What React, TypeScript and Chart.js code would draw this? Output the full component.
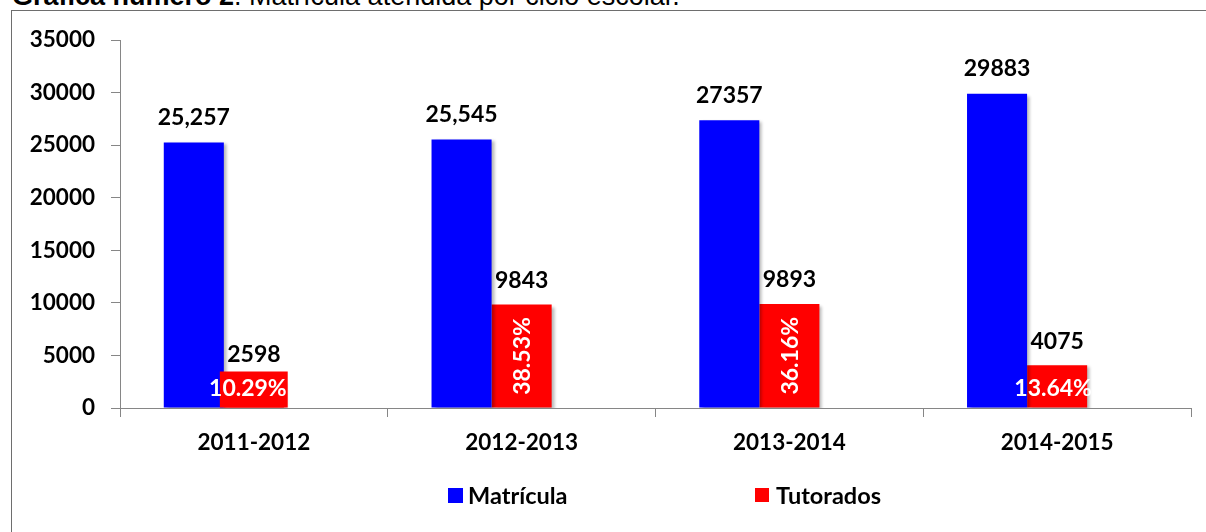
import React, { useEffect, useRef } from "react";
import { Chart, registerables } from "chart.js";

Chart.register(...registerables);

const categories = ["2011-2012", "2012-2013", "2013-2014", "2014-2015"];
const matricula = [25257, 25545, 27357, 29883];
const tutorados = [2598, 9843, 9893, 4075];
const matriculaLabels = ["25,257", "25,545", "27357", "29883"];
const tutoradosLabels = ["2598", "9843", "9893", "4075"];
const porcentajes = ["10.29%", "38.53%", "36.16%", "13.64%"];
const yTicks = [0, 5000, 10000, 15000, 20000, 25000, 30000, 35000];

const FONT = "Lato, 'Open Sans', sans-serif";

export default function App() {
  const canvasRef = useRef<HTMLCanvasElement | null>(null);

  useEffect(() => {
    document.body.style.margin = "0";
    const canvas = canvasRef.current;
    if (!canvas) return;

    const shadowPlugin = {
      id: "barShadow",
      beforeDatasetDraw(chart: any) {
        const ctx = chart.ctx;
        ctx.save();
        ctx.shadowColor = "rgba(0,0,0,0.28)";
        ctx.shadowBlur = 3;
        ctx.shadowOffsetX = 3;
        ctx.shadowOffsetY = 2;
      },
      afterDatasetDraw(chart: any) {
        chart.ctx.restore();
      },
    };

    const labelPlugin = {
      id: "barLabels",
      afterDatasetsDraw(chart: any) {
        const ctx = chart.ctx;
        ctx.save();
        ctx.font = `bold 23px ${FONT}`;
        ctx.textAlign = "center";
        ctx.textBaseline = "middle";
        const m0 = chart.getDatasetMeta(0);
        m0.data.forEach((bar: any, i: number) => {
          ctx.fillStyle = "#000";
          ctx.fillText(matriculaLabels[i], bar.x, bar.y - 25);
        });
        const m1 = chart.getDatasetMeta(1);
        m1.data.forEach((bar: any, i: number) => {
          const h = bar.base - bar.y;
          const txt = porcentajes[i];
          const w = ctx.measureText(txt).width;
          const small = h < 36;
          if (h > 80) {
            ctx.save();
            ctx.translate(bar.x, (bar.y + bar.base) / 2);
            ctx.rotate(-Math.PI / 2);
            ctx.fillStyle = "#fff";
            ctx.fillText(txt, 0, 1);
            ctx.restore();
          } else {
            const cx = bar.x - (small ? 6 : 4);
            const cy = bar.base - 19;
            if (small) {
              const left = bar.x - bar.width / 2 - 4;
              const right = cx + w / 2 + 1;
              ctx.fillStyle = "#ff0000";
              ctx.fillRect(left, cy - 17, right - left, bar.base - (cy - 17));
            }
            ctx.fillStyle = "#fff";
            ctx.fillText(txt, cx, cy);
          }
          ctx.fillStyle = "#000";
          const top = small ? Math.min(bar.y, bar.base - 36) : bar.y;
          ctx.fillText(tutoradosLabels[i], bar.x, top - (small ? 17 : 24));
        });
        ctx.restore();
      },
    };

    const chart = new Chart(canvas, {
      type: "bar",
      data: {
        labels: categories,
        datasets: [
          {
            label: "Matrícula",
            data: matricula,
            backgroundColor: "#0000ff",
            borderWidth: 0,
          },
          {
            label: "Tutorados",
            data: tutorados,
            backgroundColor: "#ff0000",
            borderWidth: 0,
          },
          {
            label: "",
            data: categories.map(() => null),
            backgroundColor: "rgba(0,0,0,0)",
          },
        ],
      },
      options: {
        animation: false,
        responsive: false,
        maintainAspectRatio: false,
        layout: { padding: { left: 0, top: 40, right: 15, bottom: 74 } },
        datasets: {
          bar: { categoryPercentage: 0.673, barPercentage: 1 },
        },
        plugins: {
          legend: { display: false },
          tooltip: { enabled: false },
          title: { display: false },
        },
        scales: {
          x: {
            offset: true,
            grid: {
              offset: true,
              drawOnChartArea: false,
              drawTicks: true,
              tickLength: 9,
              color: "#868686",
            },
            border: { display: true, color: "#868686", width: 1 },
            ticks: {
              color: "#000",
              font: { family: FONT, size: 22.5, weight: "bold" },
              padding: 12,
              maxRotation: 0,
            },
            afterFit(scale: any) {
              scale.height = 50;
            },
          },
          y: {
            min: 0,
            max: 35000,
            afterBuildTicks(scale: any) {
              scale.ticks = yTicks.map((v) => ({ value: v }));
            },
            grid: {
              drawOnChartArea: false,
              drawTicks: true,
              tickLength: 9,
              color: "#868686",
            },
            border: { display: true, color: "#868686", width: 1 },
            ticks: {
              color: "#000",
              font: { family: FONT, size: 22.5, weight: "bold" },
              padding: 16,
              callback: (v: any) => String(v),
            },
            afterFit(scale: any) {
              scale.width = 120;
            },
          },
        },
      },
      plugins: [shadowPlugin, labelPlugin],
    });

    return () => chart.destroy();
  }, []);

  return (
    <div
      style={{
        position: "relative",
        width: 1206,
        height: 532,
        overflow: "hidden",
        background: "#fff",
      }}
    >
      <div
        style={{
          position: "absolute",
          left: 12,
          top: -17,
          fontFamily: "'Liberation Sans', Arial, sans-serif",
          fontSize: 27,
          lineHeight: "26px",
          color: "#000",
          whiteSpace: "nowrap",
        }}
      >
        <b>Gráfica número 2</b>. Matrícula atendida por ciclo escolar.
      </div>
      <div
        style={{
          position: "absolute",
          left: 11,
          top: 10,
          width: 1220,
          height: 540,
          border: "1px solid #6e6e6e",
          boxSizing: "border-box",
        }}
      />
      <canvas
        ref={canvasRef}
        width={1206}
        height={532}
        style={{ position: "absolute", left: 0, top: 0, width: 1206, height: 532 }}
      />
      <div
        style={{
          position: "absolute",
          top: 482,
          left: 0,
          width: 1206,
          height: 26,
          fontFamily: FONT,
          fontWeight: "bold",
          fontSize: 23.5,
          color: "#000",
        }}
      >
        <div style={{ position: "absolute", left: 448, top: 6, width: 15, height: 15, background: "#0000ff" }} />
        <div style={{ position: "absolute", left: 468, top: 0, lineHeight: "26px" }}>Matrícula</div>
        <div style={{ position: "absolute", left: 755, top: 6, width: 14, height: 14, background: "#ff0000" }} />
        <div style={{ position: "absolute", left: 776, top: 0, lineHeight: "26px" }}>Tutorados</div>
      </div>
    </div>
  );
}
